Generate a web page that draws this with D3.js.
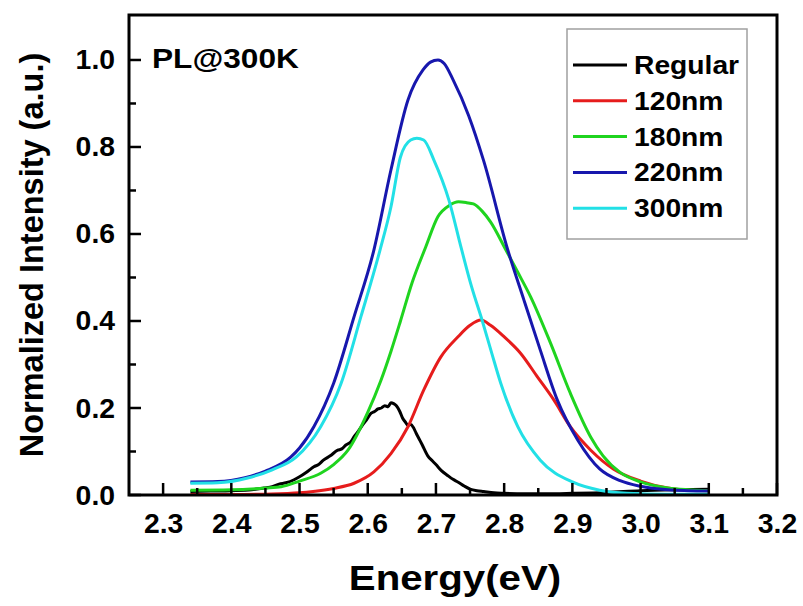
<!DOCTYPE html>
<html>
<head>
<meta charset="utf-8">
<script src="https://cdn.jsdelivr.net/npm/d3@7"></script>
<style>
  html, body { margin: 0; padding: 0; background: #fff; }
  svg { display: block; }
  text { font-family: "Liberation Sans", Arial, Helvetica, sans-serif; font-weight: bold; fill: #000; }
</style>
</head>
<body>
<script>
// ---------- data ----------
const seriesNames = ["Regular", "120nm", "180nm", "220nm", "300nm"];

const energyRegular = [2.34, 2.37, 2.40, 2.43, 2.448, 2.46, 2.47, 2.48, 2.492, 2.50, 2.508, 2.515, 2.521, 2.528, 2.535, 2.545, 2.556, 2.562, 2.568, 2.575, 2.58, 2.586, 2.592, 2.598, 2.605, 2.61, 2.615, 2.62, 2.625, 2.63, 2.634, 2.638, 2.642, 2.647, 2.651, 2.655, 2.659, 2.663, 2.667, 2.671, 2.675, 2.68, 2.688, 2.695, 2.70, 2.708, 2.717, 2.725, 2.732, 2.742, 2.751, 2.76, 2.77, 2.785, 2.80, 2.83, 2.86, 2.90, 2.95, 3.00, 3.05, 3.10];
const intensityRegular = [0.008, 0.009, 0.010, 0.012, 0.016, 0.019, 0.025, 0.028, 0.035, 0.042, 0.050, 0.058, 0.065, 0.070, 0.080, 0.090, 0.103, 0.106, 0.115, 0.122, 0.134, 0.146, 0.160, 0.172, 0.188, 0.192, 0.198, 0.200, 0.205, 0.203, 0.212, 0.210, 0.205, 0.192, 0.177, 0.168, 0.160, 0.162, 0.155, 0.142, 0.130, 0.115, 0.090, 0.078, 0.070, 0.056, 0.045, 0.036, 0.030, 0.020, 0.013, 0.010, 0.008, 0.005, 0.004, 0.003, 0.003, 0.004, 0.006, 0.010, 0.012, 0.013];

const energy120 = [2.34, 2.40, 2.45, 2.50, 2.52, 2.55, 2.58, 2.609, 2.634, 2.659, 2.682, 2.707, 2.732, 2.75, 2.766, 2.78, 2.799, 2.824, 2.849, 2.873, 2.897, 2.927, 2.96, 3.00, 3.04, 3.07, 3.10];
const intensity120 = [0.001, 0.001, 0.002, 0.005, 0.008, 0.015, 0.027, 0.053, 0.095, 0.157, 0.241, 0.317, 0.363, 0.390, 0.402, 0.390, 0.365, 0.326, 0.271, 0.218, 0.157, 0.103, 0.060, 0.032, 0.016, 0.011, 0.010];

const energy180 = [2.34, 2.40, 2.45, 2.473, 2.50, 2.531, 2.55, 2.571, 2.60, 2.619, 2.634, 2.648, 2.665, 2.685, 2.703, 2.72, 2.733, 2.745, 2.755, 2.768, 2.78, 2.802, 2.82, 2.839, 2.868, 2.897, 2.927, 2.945, 2.97, 3.00, 3.04, 3.07, 3.10];
const intensity180 = [0.011, 0.012, 0.016, 0.019, 0.032, 0.050, 0.070, 0.103, 0.190, 0.262, 0.330, 0.400, 0.488, 0.570, 0.640, 0.666, 0.674, 0.672, 0.669, 0.652, 0.628, 0.565, 0.512, 0.455, 0.349, 0.234, 0.133, 0.090, 0.052, 0.030, 0.016, 0.012, 0.010];

const energy220 = [2.34, 2.38, 2.42, 2.45, 2.487, 2.50, 2.521, 2.55, 2.58, 2.609, 2.634, 2.659, 2.681, 2.692, 2.703, 2.712, 2.725, 2.748, 2.77, 2.805, 2.829, 2.853, 2.878, 2.908, 2.94, 2.97, 3.00, 3.04, 3.07, 3.10];
const intensity220 = [0.030, 0.031, 0.040, 0.055, 0.087, 0.108, 0.157, 0.257, 0.410, 0.563, 0.747, 0.908, 0.977, 0.995, 1.000, 0.992, 0.955, 0.872, 0.768, 0.565, 0.448, 0.333, 0.218, 0.126, 0.060, 0.033, 0.020, 0.012, 0.010, 0.009];

const energy300 = [2.34, 2.38, 2.424, 2.46, 2.495, 2.531, 2.561, 2.59, 2.618, 2.634, 2.648, 2.663, 2.672, 2.682, 2.697, 2.719, 2.737, 2.752, 2.768, 2.782, 2.795, 2.82, 2.853, 2.90, 2.94, 2.98, 3.04, 3.10];
const intensity300 = [0.027, 0.028, 0.039, 0.058, 0.087, 0.157, 0.257, 0.410, 0.563, 0.662, 0.777, 0.816, 0.820, 0.816, 0.770, 0.678, 0.568, 0.480, 0.400, 0.325, 0.257, 0.157, 0.080, 0.030, 0.011, 0.004, 0.002, 0.002];

const xTickLabels = ["2.3", "2.4", "2.5", "2.6", "2.7", "2.8", "2.9", "3.0", "3.1", "3.2"];
const yTickLabels = ["0.0", "0.2", "0.4", "0.6", "0.8", "1.0"];
const seriesColors = ["#000000", "#e61c1c", "#1fd41f", "#1717ad", "#22e0e6"];

const panelLabel = "PL@300K";
const xTitle = "Energy(eV)";
const yTitle = "Normalized Intensity (a.u.)";

// ---------- setup ----------
const W = 803, H = 606;
const svg = d3.select("body").append("svg").attr("width", W).attr("height", H);

const pL = 129, pR = 777, pT = 15, pB = 495;
const x = d3.scaleLinear().domain([2.25, 3.2]).range([pL, pR]);
const y = d3.scaleLinear().domain([0, 1.1034]).range([pB, pT]);

const series = [
  { name: seriesNames[0], e: energyRegular, v: intensityRegular, c: seriesColors[0] },
  { name: seriesNames[1], e: energy120, v: intensity120, c: seriesColors[1] },
  { name: seriesNames[2], e: energy180, v: intensity180, c: seriesColors[2] },
  { name: seriesNames[3], e: energy220, v: intensity220, c: seriesColors[3] },
  { name: seriesNames[4], e: energy300, v: intensity300, c: seriesColors[4] }
];

// ---------- curves ----------
const line = d3.line()
  .x(d => x(d[0]))
  .y(d => y(d[1]))
  .curve(d3.curveMonotoneX);

const gLines = svg.append("g");
series.forEach(s => {
  const pts = s.e.map((e, i) => [e, s.v[i]]);
  gLines.append("path")
    .attr("d", line(pts))
    .attr("fill", "none")
    .attr("stroke", s.c)
    .attr("stroke-width", 3)
    .attr("stroke-linejoin", "round");
});

// ---------- axes ----------
const xMajor = xTickLabels.map(Number);
const xMinor = d3.range(0, 9).map(i => +(2.35 + i * 0.1).toFixed(2));
const yMajor = yTickLabels.map(Number);
const yMinor = [0.1, 0.3, 0.5, 0.7, 0.9];

// tick marks (inward)
const gTicks = svg.append("g").attr("stroke", "#000").attr("stroke-width", 2.5);
xMajor.forEach(v => gTicks.append("line")
  .attr("x1", x(v)).attr("x2", x(v)).attr("y1", pB).attr("y2", pB - 12));
xMinor.forEach(v => gTicks.append("line")
  .attr("x1", x(v)).attr("x2", x(v)).attr("y1", pB).attr("y2", pB - 7));
yMajor.forEach(v => gTicks.append("line")
  .attr("x1", pL).attr("x2", pL + 12).attr("y1", y(v)).attr("y2", y(v)));
yMinor.forEach(v => gTicks.append("line")
  .attr("x1", pL).attr("x2", pL + 7).attr("y1", y(v)).attr("y2", y(v)));

// tick labels via d3 axes
const xAxis = svg.append("g")
  .attr("transform", `translate(0,${pB})`)
  .call(d3.axisBottom(x).tickValues(xMajor).tickSize(0)
    .tickFormat((d, i) => xTickLabels[i]));
xAxis.select(".domain").remove();
xAxis.selectAll("line").remove();
xAxis.selectAll("text")
  .attr("y", 38).attr("dy", 0)
  .attr("font-size", 27)
  .attr("transform", "scale(1.05,1)")
  .style("font-family", '"Liberation Sans", Arial, sans-serif')
  .style("font-weight", "bold").attr("fill", "#000");

const yAxis = svg.append("g")
  .attr("transform", `translate(${pL},0)`)
  .call(d3.axisLeft(y).tickValues(yMajor).tickSize(0)
    .tickFormat((d, i) => yTickLabels[i]));
yAxis.select(".domain").remove();
yAxis.selectAll("line").remove();
yAxis.selectAll("text")
  .attr("x", -14 / 1.05).attr("dy", 9)
  .attr("font-size", 27)
  .attr("transform", "scale(1.05,1)")
  .style("font-family", '"Liberation Sans", Arial, sans-serif')
  .style("font-weight", "bold").attr("fill", "#000");

// frame
svg.append("rect")
  .attr("x", pL).attr("y", pT)
  .attr("width", pR - pL).attr("height", pB - pT)
  .attr("fill", "none").attr("stroke", "#000").attr("stroke-width", 3);

// ---------- titles ----------
svg.append("text")
  .attr("transform", `translate(${(pL + pR) / 2 + 2},590) scale(1.15,1)`)
  .attr("text-anchor", "middle")
  .attr("font-size", 35)
  .text(xTitle);

svg.append("text")
  .attr("transform", `translate(43,${(pT + pB) / 2}) rotate(-90)`)
  .attr("text-anchor", "middle")
  .attr("font-size", 32.5)
  .text(yTitle);

svg.append("text")
  .attr("transform", "translate(152,68) scale(1.13,1)")
  .attr("font-size", 28)
  .text(panelLabel);

// ---------- legend ----------
const lg = svg.append("g");
lg.append("rect")
  .attr("x", 567).attr("y", 29).attr("width", 180).attr("height", 210)
  .attr("fill", "#fff").attr("stroke", "#a0a0a0").attr("stroke-width", 1.5);
series.forEach((s, i) => {
  const yy = 65 + i * 35.8;
  lg.append("line")
    .attr("x1", 573).attr("x2", 627).attr("y1", yy).attr("y2", yy)
    .attr("stroke", s.c).attr("stroke-width", 3);
  lg.append("text")
    .attr("transform", `translate(634,${yy + 9}) scale(1.13,1)`)
    .attr("font-size", 25)
    .text(s.name);
});
</script>
</body>
</html>
